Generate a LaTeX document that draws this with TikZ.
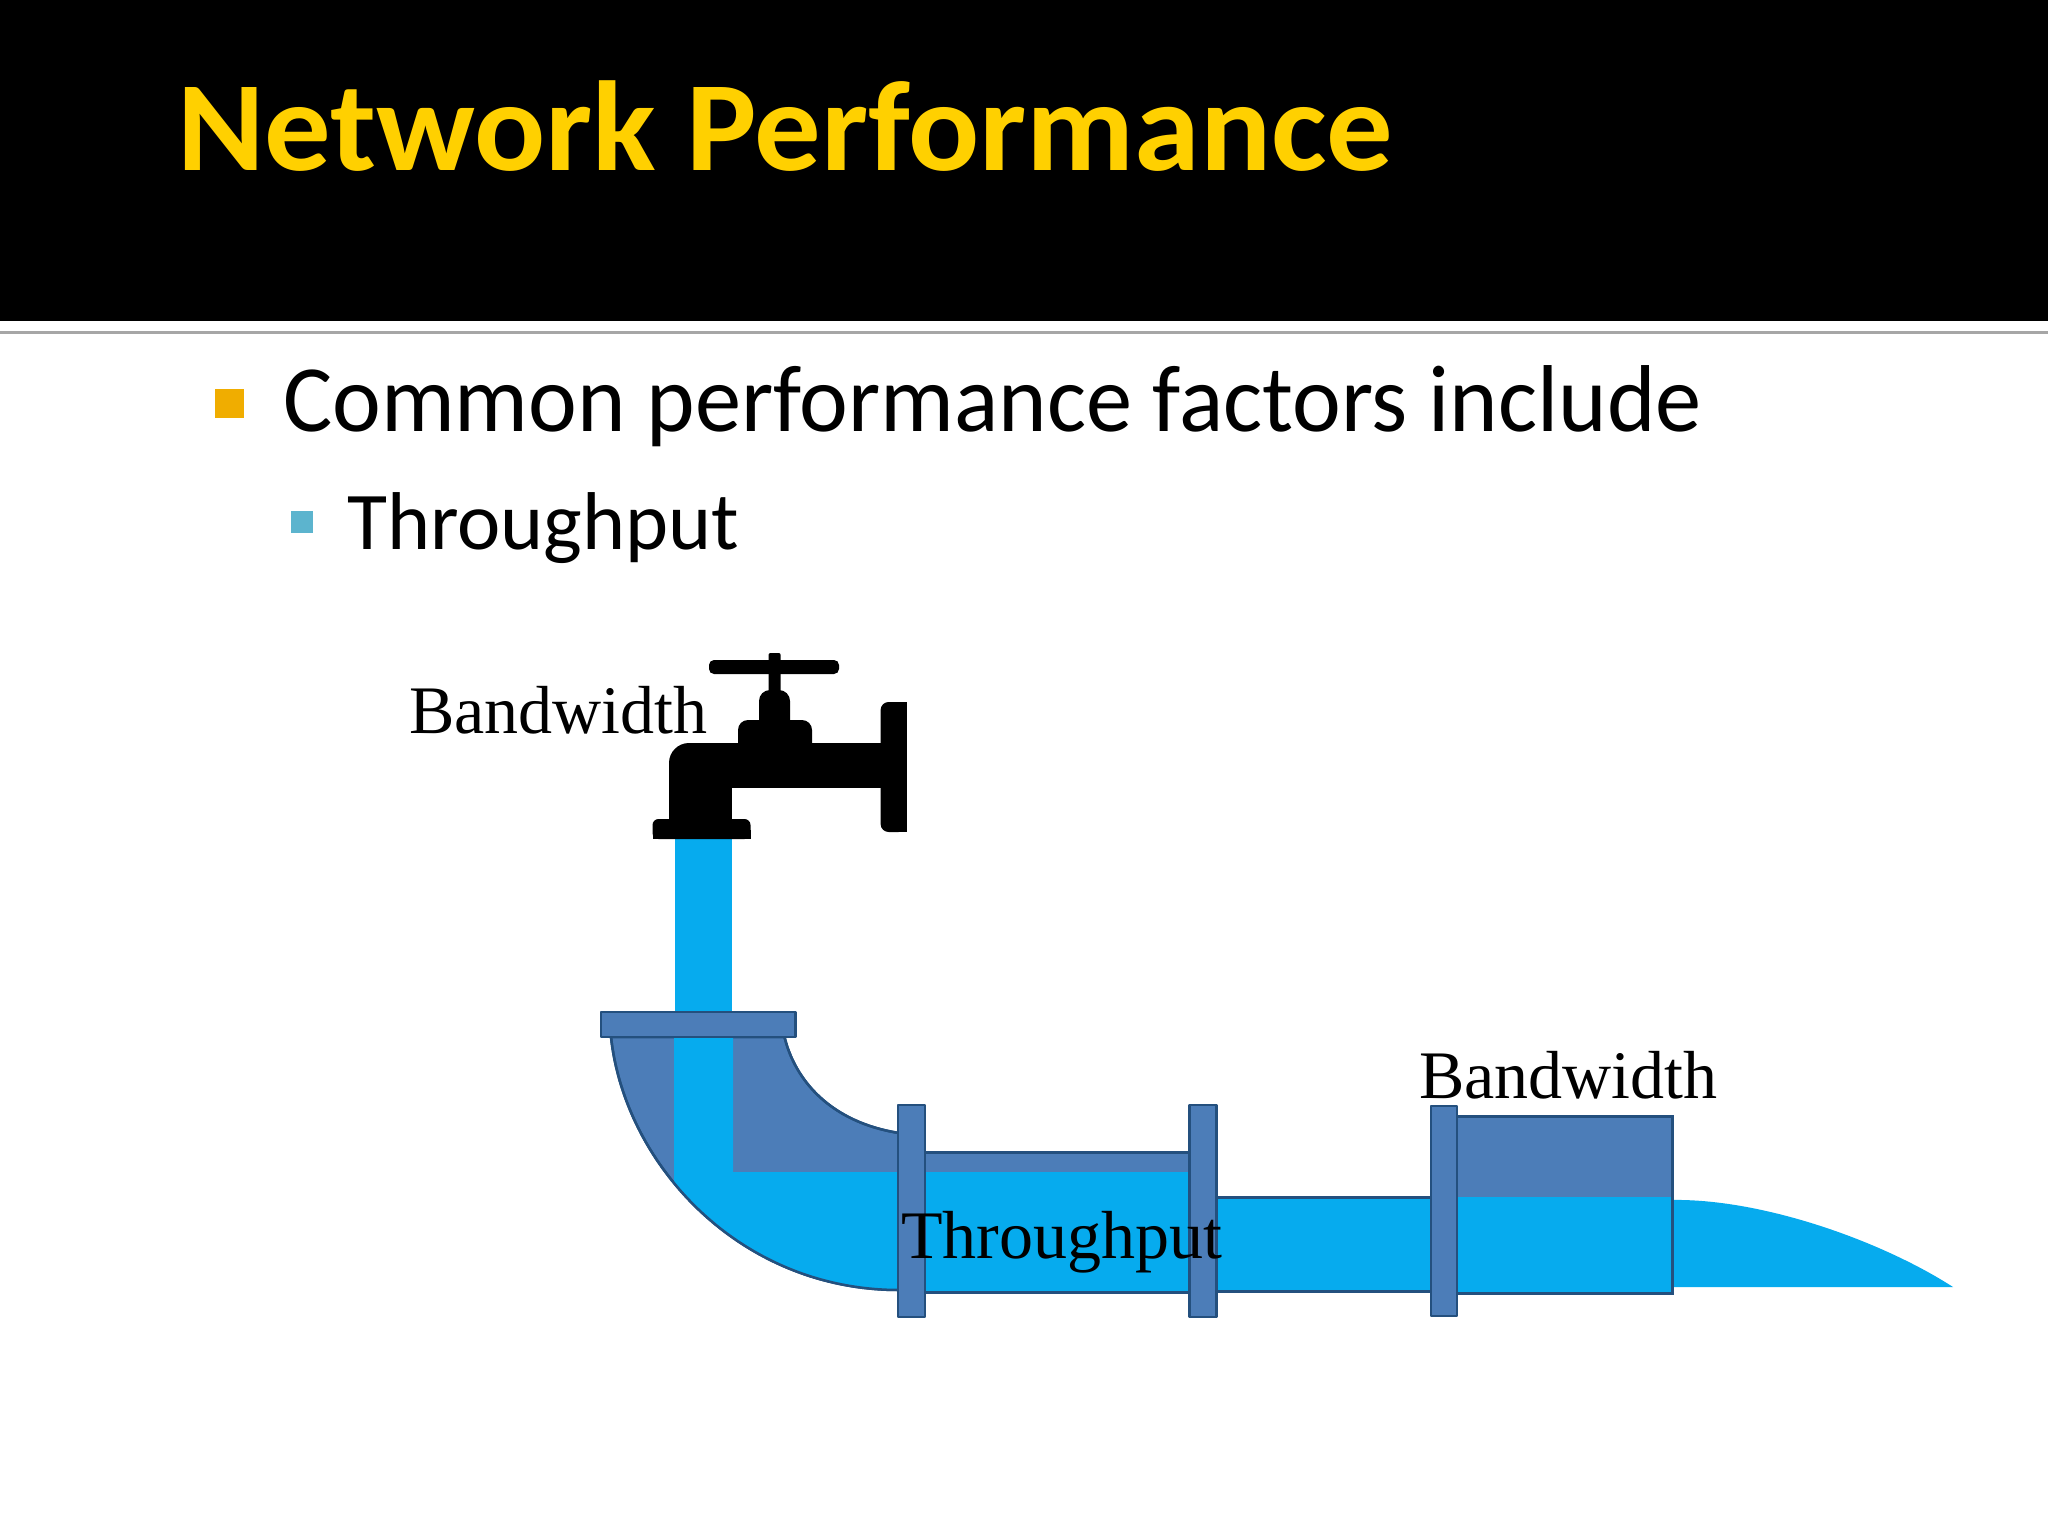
\documentclass[tikz,border=0pt]{standalone}
\usepackage{fontspec}
\setmainfont{Carlito}
\newfontfamily\serifl{Liberation Serif}
\definecolor{water}{HTML}{06ABEE}
\definecolor{pipe}{HTML}{4C7DB8}
\definecolor{pipeline}{HTML}{24507E}
\definecolor{titlegold}{HTML}{FFD000}
\definecolor{bulorange}{HTML}{F0AD00}
\definecolor{bulblue}{HTML}{5CB4CE}
\tikzset{
  lbl/.style={anchor=base west,inner sep=0pt,text=black,font=\serifl\fontsize{68}{68}\selectfont},
  txt/.style={anchor=base west,inner sep=0pt,text=black},
  pipepart/.style={fill=pipe,draw=pipeline,line width=2.5pt,line join=round},
  waterpart/.style={fill=water,draw=none},
  tap/.style={fill=black,draw=none}
}
\begin{document}
\begin{tikzpicture}[x=1pt,y=-1pt]
\useasboundingbox (0,0) rectangle (2048,1536);
\fill[white] (0,0) rectangle (2048,1536);
% banner
\fill[black] (0,0) rectangle (2048,321);
\fill[gray!70] (0,331) rectangle (2048,334);
\node[txt,text=titlegold,font=\bfseries\fontsize{128}{128}\selectfont] (title) at (177,171) {\scalebox{1.036}[1]{Network Performance}};
% bullets
\fill[bulorange] (215,389) rectangle (244,418);
\node[txt,font=\fontsize{95}{95}\selectfont] (l1) at (283,431) {\scalebox{.972}[1]{Common performance factors include}};
\fill[bulblue] (291,511) rectangle (312.5,533);
\node[txt,font=\fontsize{82}{82}\selectfont] (l2) at (347,549) {Throughput};
% water stream from tap
\fill[water] (675,835) rectangle (732,1014);
% spout
\path[waterpart] (1670,1200) .. controls (1760,1198) and (1880,1240) .. (1953,1287) -- (1670,1287) -- cycle;
% elbow
\path[pipepart] (611,1037) .. controls (625,1165) and (740,1290) .. (899,1290)
  -- (899,1133) .. controls (830,1122) and (795,1080) .. (784.5,1037) -- cycle;
\begin{scope}
\clip (611,1037) .. controls (625,1165) and (740,1290) .. (899,1290)
  -- (899,1133) .. controls (830,1122) and (795,1080) .. (784.5,1037) -- cycle;
\fill[water] (674,1037) -- (733,1037) -- (733,1172) -- (899,1172) -- (899,1300) -- (674,1300) -- cycle;
\end{scope}
\draw[pipeline,line width=2.5pt] (611,1037) .. controls (625,1165) and (740,1290) .. (899,1290);
\draw[pipeline,line width=2.5pt] (899,1133) .. controls (830,1122) and (795,1080) .. (784.5,1037);
% middle pipe
\path[waterpart] (924,1152) rectangle (1190,1292);
\fill[pipe] (924,1152) rectangle (1190,1172);
\draw[pipeline,line width=3pt] (924,1152) -- (1190,1152) (924,1292) -- (1190,1292);
% third pipe
\path[waterpart] (1215,1197) rectangle (1432,1291);
\draw[pipeline,line width=3pt] (1215,1197) -- (1432,1197) (1215,1291) -- (1432,1291);
% end pipe
\path[waterpart] (1456,1197) rectangle (1672,1293);
\fill[pipe] (1456,1116) rectangle (1672,1197);
\draw[pipeline,line width=3pt] (1456,1116) -- (1672,1116) -- (1672,1293) -- (1456,1293);
% flanges
\path[pipepart] (601,1012) rectangle (795.5,1037);
\path[pipepart] (898,1105) rectangle (925,1317);
\path[pipepart] (1189.5,1105) rectangle (1216.5,1317);
\path[pipepart] (1431,1106) rectangle (1457,1316);
% faucet
\fill[tap,rounded corners=5pt] (709,660) rectangle (839,674);
\fill[tap,rounded corners=2pt] (768.5,653) rectangle (780.7,695);
\fill[tap,rounded corners=11pt] (759,690) rectangle (790,740);
\fill[tap,rounded corners=10pt] (738,720) rectangle (812,760);
\fill[tap,rounded corners=20pt] (669,743) rectangle (732,800);
\fill[tap] (700,743) rectangle (890,788);
\fill[tap] (669,770) rectangle (732,830);
\fill[tap,rounded corners=8pt] (880.6,702) rectangle (906.6,832);
\fill[tap] (895,702) rectangle (906.6,832);
\fill[tap,rounded corners=6pt] (652.5,819) rectangle (750.5,839);
\fill[tap] (652.5,830) rectangle (750.5,839);
% labels
\node[lbl] (bw1) at (409,733) {Bandwidth};
\node[lbl] (tp) at (901,1258) {Throughput};
\node[lbl] (bw2) at (1419,1098) {Bandwidth};
\end{tikzpicture}
\end{document}
